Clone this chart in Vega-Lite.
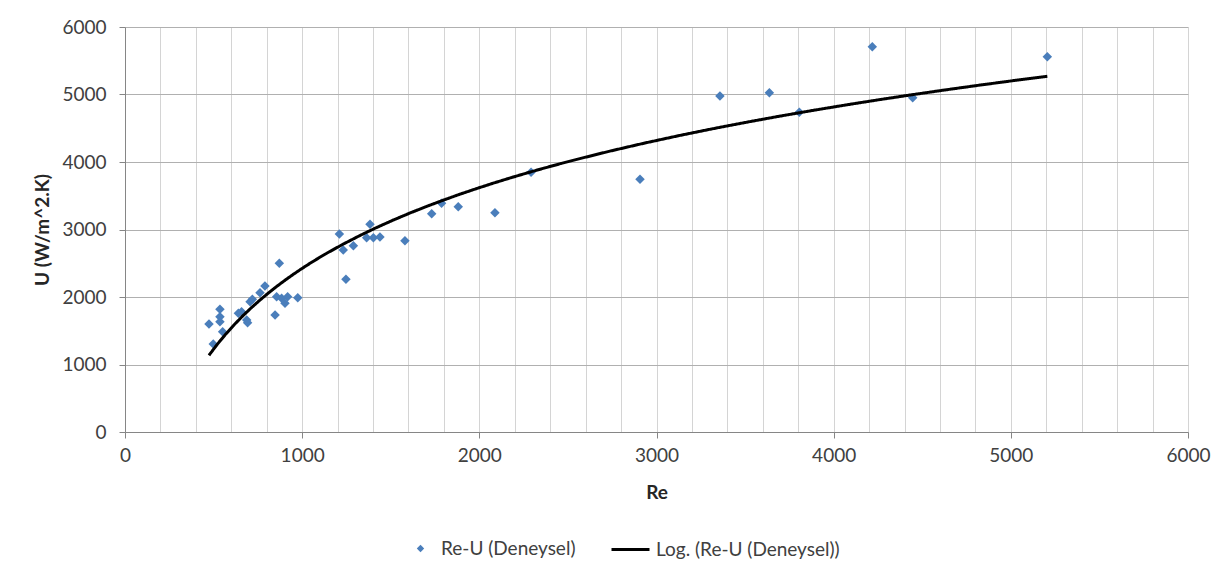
{
  "$schema": "https://vega.github.io/schema/vega-lite/v6.json",
  "width": 1063,
  "height": 405,
  "autosize": {"type": "none"},
  "padding": {"left": 125, "top": 27, "right": 43, "bottom": 141},
  "background": "white",
  "config": {
    "view": {"stroke": null},
    "font": "Lato",
    "axis": {"labelFont": "Lato", "titleFont": "Lato", "labelColor": "#404040", "titleColor": "#262626", "labelFontSize": 19, "titleFontSize": 19, "titleFontWeight": "bold", "domainColor": "#868686", "tickColor": "#868686"},
    "legend": {"labelFont": "Lato", "labelFontSize": 19, "labelColor": "#404040", "padding": 0, "title": null, "labelLimit": 500}
  },
  "data": {
    "values": [
      {"Re": 474, "U": 1600}, {"Re": 498, "U": 1304}, {"Re": 536, "U": 1817}, {"Re": 536, "U": 1708},
      {"Re": 536, "U": 1634}, {"Re": 551, "U": 1486}, {"Re": 640, "U": 1758}, {"Re": 658, "U": 1783},
      {"Re": 687, "U": 1659}, {"Re": 692, "U": 1620}, {"Re": 706, "U": 1931}, {"Re": 719, "U": 1966},
      {"Re": 762, "U": 2064}, {"Re": 790, "U": 2163}, {"Re": 847, "U": 1733}, {"Re": 871, "U": 2499},
      {"Re": 856, "U": 2005}, {"Re": 884, "U": 1980}, {"Re": 903, "U": 1906}, {"Re": 918, "U": 2005},
      {"Re": 975, "U": 1990}, {"Re": 1210, "U": 2933}, {"Re": 1232, "U": 2696}, {"Re": 1247, "U": 2262},
      {"Re": 1289, "U": 2760}, {"Re": 1383, "U": 3077}, {"Re": 1364, "U": 2879}, {"Re": 1402, "U": 2879},
      {"Re": 1439, "U": 2889}, {"Re": 1580, "U": 2834}, {"Re": 1731, "U": 3235}, {"Re": 1787, "U": 3388},
      {"Re": 1881, "U": 3338}, {"Re": 2088, "U": 3249}, {"Re": 2292, "U": 3847}, {"Re": 2907, "U": 3743},
      {"Re": 3358, "U": 4978}, {"Re": 3637, "U": 5027}, {"Re": 3806, "U": 4736}, {"Re": 4218, "U": 5708},
      {"Re": 4446, "U": 4953}, {"Re": 5206, "U": 5560}
    ]
  },
  "encoding": {
    "x": {
      "field": "Re", "type": "quantitative",
      "scale": {"domain": [0, 6000], "nice": false, "zero": true},
      "axis": {
        "title": "Re",
        "values": [0,200,400,600,800,1000,1200,1400,1600,1800,2000,2200,2400,2600,2800,3000,3200,3400,3600,3800,4000,4200,4400,4600,4800,5000,5200,5400,5600,5800,6000],
        "labelExpr": "datum.value % 1000 === 0 ? datum.label : ''",
        "format": "d",
        "grid": true, "gridColor": "#d4d4d4", "gridWidth": 1,
        "tickSize": 6,
        "tickOpacity": {"condition": {"test": "datum.value % 1000 === 0", "value": 1}, "value": 0},
        "labelPadding": 8, "titlePadding": 18, "labelFlush": false, "labelOverlap": false
      }
    },
    "y": {
      "field": "U", "type": "quantitative",
      "scale": {"domain": [0, 6000], "nice": false},
      "axis": {
        "title": "U (W/m^2.K)",
        "values": [0,1000,2000,3000,4000,5000,6000],
        "format": "d",
        "grid": true, "gridColor": "#b0b0b0", "gridWidth": 1,
        "tickSize": 6, "labelPadding": 13, "titlePadding": 9
      }
    }
  },
  "layer": [
    {
      "mark": {"type": "point", "shape": "diamond", "filled": true, "size": 90, "opacity": 1, "color": "#4A7EBB"},
      "encoding": {
        "shape": {
          "datum": "Re-U (Deneysel)",
          "scale": {"domain": ["Re-U (Deneysel)"], "range": ["diamond"]},
          "legend": {
            "orient": "none", "direction": "horizontal",
            "legendX": 286, "legendY": 512,
            "labelOffset": 11,
            "symbolSize": 55, "symbolFillColor": "#4A7EBB", "symbolStrokeColor": "#4A7EBB", "symbolStrokeWidth": 0, "symbolOpacity": 1
          }
        }
      }
    },
    {
      "transform": [{"regression": "U", "on": "Re", "method": "log"}],
      "mark": {"type": "line", "strokeWidth": 3, "color": "#000000"},
      "encoding": {
        "strokeDash": {
          "datum": "Log. (Re-U (Deneysel))",
          "scale": {"domain": ["Log. (Re-U (Deneysel))"], "range": [[1, 0]]},
          "legend": {
            "orient": "none", "direction": "horizontal",
            "legendX": 485, "legendY": 502,
            "labelOffset": 5,
            "symbolType": "stroke", "symbolSize": 1444, "symbolStrokeColor": "#000000", "symbolStrokeWidth": 3, "symbolDash": [1, 0]
          }
        }
      }
    }
  ]
}
